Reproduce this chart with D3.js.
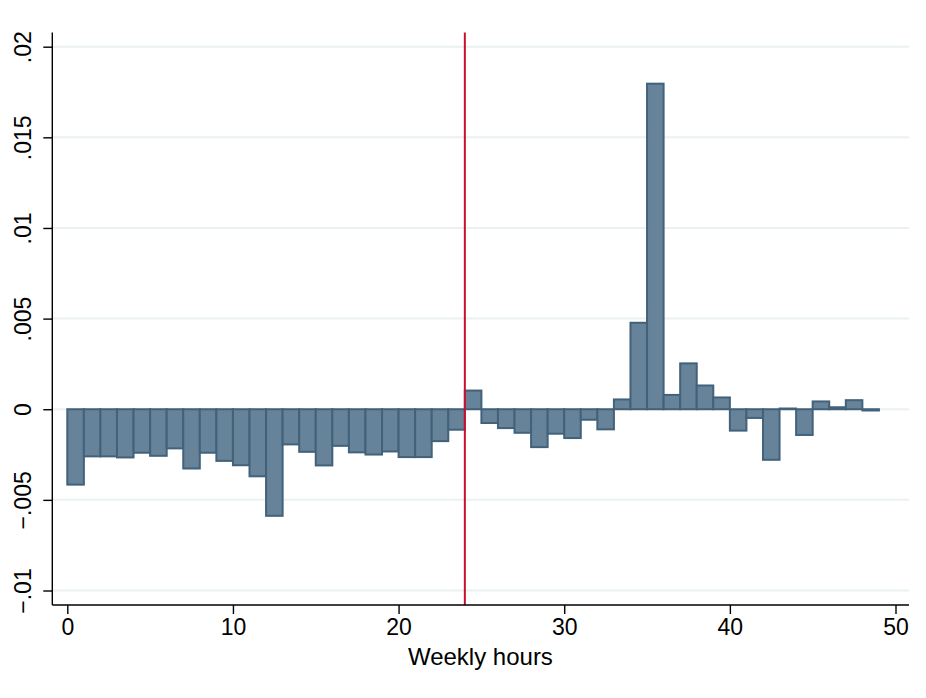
<!DOCTYPE html>
<html>
<head>
<meta charset="utf-8">
<script src="https://cdn.jsdelivr.net/npm/d3@7"></script>
<style>
  body { margin: 0; background: #fff; }
  text { font-family: "Liberation Sans", Arial, sans-serif; fill: #000; }
</style>
</head>
<body>
<script>
// bar start (weekly hours), each bar is 1 hour wide
const hours = d3.range(0, 49);
// difference in density per hour
const diffs = [
  -0.00416, -0.0026, -0.0026, -0.00266, -0.0024, -0.00257, -0.00216, -0.00327, -0.0024, -0.00285,
  -0.00309, -0.0037, -0.00588, -0.00194, -0.00235, -0.0031, -0.00202, -0.00238, -0.0025, -0.00233,
  -0.00264, -0.00264, -0.00176, -0.00113, 0.00103, -0.00076, -0.00104, -0.0013, -0.00209, -0.00135,
  -0.00159, -0.00058, -0.00111, 0.00054, 0.00477, 0.01796, 0.00079, 0.00253, 0.00131, 0.00065,
  -0.00118, -0.00048, -0.00279, 0.00004, -0.00142, 0.00043, 0.00011, 0.0005, -0.00007
];
const xTicks = [0, 10, 20, 30, 40, 50];
const yTicks = [-0.01, -0.005, 0, 0.005, 0.01, 0.015, 0.02];
const yTickLabels = ["\u2212.01", "\u2212.005", "0", ".005", ".01", ".015", ".02"];
const cutoff = 24;

const w = 926, h = 698;

const x = d3.scaleLinear().domain([0, 50]).range([67.3, 895.5]);
const y = d3.scaleLinear().domain([-0.01, 0.02]).range([590.5, 46.7]);

const axisLeftX = 52.3, axisBottomY = 605, plotRight = 909, plotTop = 32.5;

const svg = d3.select("body").append("svg").attr("width", w).attr("height", h);

// gridlines
svg.append("g").selectAll("line").data(yTicks).enter().append("line")
  .attr("x1", axisLeftX).attr("x2", plotRight)
  .attr("y1", d => y(d)).attr("y2", d => y(d))
  .attr("stroke", "#eaf1f3").attr("stroke-width", 2);

// bars
svg.append("g").selectAll("rect").data(hours).enter().append("rect")
  .attr("x", d => x(d))
  .attr("width", d => x(d + 1) - x(d))
  .attr("y", (d, i) => y(Math.max(0, diffs[i])))
  .attr("height", (d, i) => Math.abs(y(diffs[i]) - y(0)))
  .attr("fill", "#668399")
  .attr("stroke", "#42627b")
  .attr("stroke-width", 2);

// cutoff line
svg.append("line")
  .attr("x1", x(cutoff)).attr("x2", x(cutoff))
  .attr("y1", plotTop).attr("y2", axisBottomY)
  .attr("stroke", "#c8102e").attr("stroke-width", 2);

// y axis
const yAxis = d3.axisLeft(y).tickValues(yTicks).tickSize(9).tickPadding(6)
  .tickFormat((d, i) => yTickLabels[i]);
const gy = svg.append("g").attr("transform", `translate(${axisLeftX},0)`).call(yAxis);
gy.select(".domain").attr("d", `M0,${plotTop}V${axisBottomY}`).attr("stroke", "#000").attr("stroke-width", 1.4);
gy.selectAll(".tick line").attr("stroke", "#000").attr("stroke-width", 1.4);
gy.selectAll(".tick text")
  .attr("font-size", 23)
  .attr("x", null).attr("dy", null)
  .attr("text-anchor", "middle")
  .attr("transform", "translate(-21,0) rotate(-90)");

// x axis
const xAxis = d3.axisBottom(x).tickValues(xTicks).tickSize(9).tickPadding(5).tickFormat(d3.format("d"));
const gx = svg.append("g").attr("transform", `translate(0,${axisBottomY})`).call(xAxis);
gx.select(".domain").attr("d", `M${axisLeftX},0H${plotRight}`).attr("stroke", "#000").attr("stroke-width", 1.4);
gx.selectAll(".tick line").attr("stroke", "#000").attr("stroke-width", 1.4);
gx.selectAll(".tick text").attr("font-size", 23);

svg.append("text")
  .attr("x", x(25) - 1).attr("y", 665)
  .attr("text-anchor", "middle")
  .attr("font-size", 24)
  .text("Weekly hours");
</script>
</body>
</html>
